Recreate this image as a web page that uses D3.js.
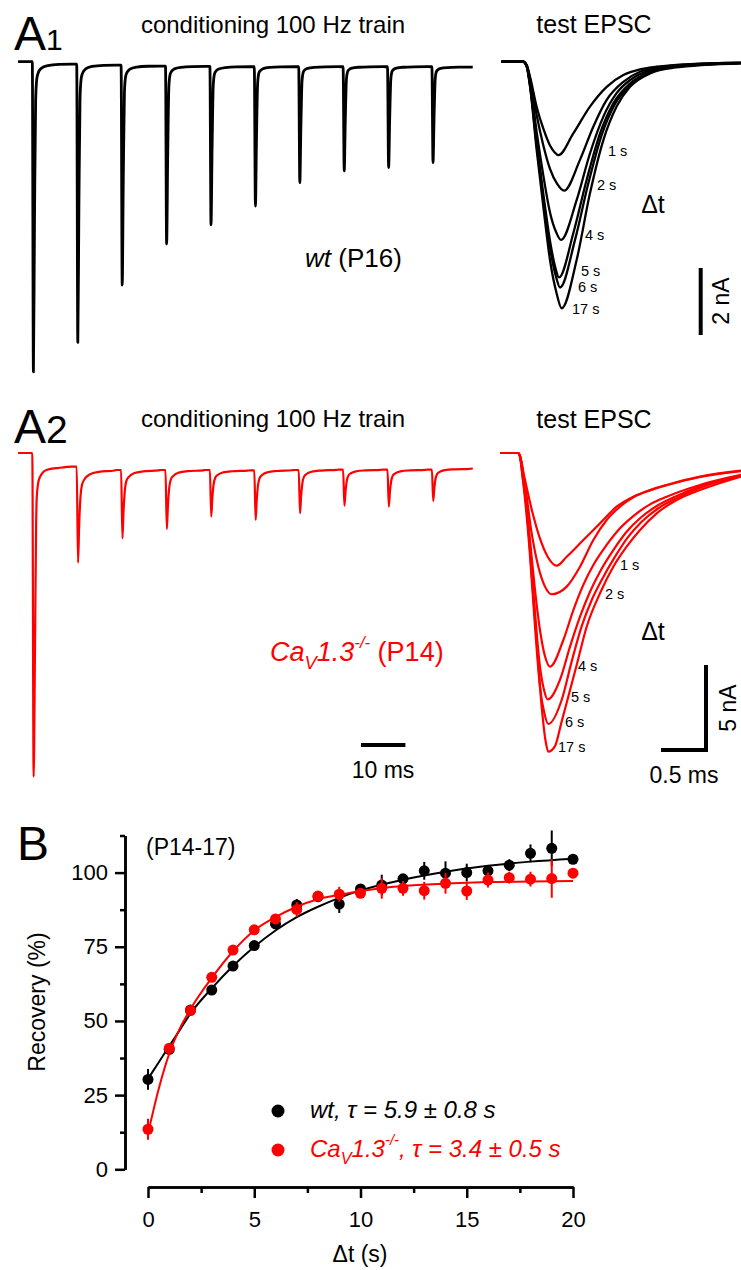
<!DOCTYPE html>
<html><head><meta charset="utf-8">
<script src="https://cdn.jsdelivr.net/npm/d3@7"></script>
<style>
body{margin:0;background:#fff}
svg{display:block}
text{font-family:"Liberation Sans",Arial,sans-serif}
</style>
</head><body><div id="chart"></div>
<script>
// ================= DATA =================
// Panel A: conditioning 100 Hz trains (stimulus times in ms, currents in nA)
const stimTimes = [0, 10, 20, 30, 40, 50, 60, 70, 80, 90];
const trainStart = -3.2, trainEnd = 99.2;
const wtTrainPeak = [-9.26, -8.38, -6.67, -5.44, -4.87, -4.31, -3.61, -3.26, -3.16, -3.01];
const wtTrainBase = [0, -0.07, -0.1, -0.13, -0.14, -0.15, -0.15, -0.15, -0.15, -0.15, -0.16];
const koTrainPeak = [-19.04, -6.45, -5.02, -4.48, -3.74, -3.94, -3.54, -3.1, -3.16, -2.82];
const koTrainBase = [0, -0.8, -1.0, -1.0, -1.0, -1.02, -1.0, -0.98, -0.98, -0.98, -0.92];
// normalised EPSC shapes within one 10-ms interval [ms after stimulus, fraction of peak]
const wtSpikeShape = [[0,0],[0.25,1],[0.5,0.5],[0.75,0.12],[1.0,0.05],[1.3,0.03],[2.0,0.014],[3.5,0.005],[6,0.001],[9,0]];
const koSpikeShapeFirst = [[0,0],[0.3,1],[0.6,0.6],[0.85,0.2],[1.0,0.1],[1.3,0.055],[1.75,0.033],[3.2,0.011],[6,0.004],[9,0]];
const koSpikeShapeRest = [[0,0],[0.3,1],[0.55,0.6],[0.8,0.33],[1.2,0.16],[1.75,0.1],[3,0.045],[5,0.02],[8.5,0.005],[9,0]];

// Test EPSCs after recovery interval Δt: [ms, nA]
const testLabels = ["1 s", "2 s", "4 s", "5 s", "6 s", "17 s"];
const wtTest = [
  [[-0.24,0],[0,0],[0.041,-0.1],[0.078,-0.45],[0.152,-1.35],[0.226,-2.0],[0.3,-2.5],[0.35,-2.7],[0.393,-2.79],[0.559,-2.14],[0.744,-1.34],[0.93,-0.75],[1.115,-0.4],[1.3,-0.23],[1.485,-0.15],[1.856,-0.07],[2.42,-0.03]],
  [[-0.24,0],[0,0],[0.041,-0.1],[0.078,-0.5],[0.152,-1.6],[0.226,-2.5],[0.3,-3.2],[0.38,-3.65],[0.456,-3.85],[0.633,-2.93],[0.781,-1.94],[0.93,-1.14],[1.115,-0.6],[1.3,-0.3],[1.56,-0.15],[1.856,-0.08],[2.42,-0.03]],
  [[-0.24,0],[0,0],[0.041,-0.12],[0.078,-0.6],[0.152,-2.1],[0.226,-3.4],[0.3,-4.5],[0.37,-5.1],[0.422,-5.32],[0.596,-4.13],[0.744,-2.74],[0.893,-1.64],[1.04,-0.94],[1.189,-0.55],[1.41,-0.25],[1.67,-0.13],[2.42,-0.04]],
  [[-0.24,0],[0,0],[0.041,-0.13],[0.078,-0.68],[0.152,-2.4],[0.226,-3.95],[0.3,-5.35],[0.36,-6.15],[0.4,-6.44],[0.559,-5.12],[0.707,-3.53],[0.856,-2.14],[1.004,-1.24],[1.189,-0.65],[1.41,-0.3],[1.67,-0.15],[2.42,-0.04]],
  [[-0.24,0],[0,0],[0.041,-0.14],[0.078,-0.7],[0.152,-2.5],[0.226,-4.1],[0.3,-5.55],[0.37,-6.45],[0.411,-6.74],[0.578,-5.32],[0.726,-3.63],[0.874,-2.19],[1.022,-1.26],[1.207,-0.67],[1.43,-0.31],[1.69,-0.15],[2.42,-0.04]],
  [[-0.24,0],[0,0],[0.041,-0.15],[0.078,-0.74],[0.152,-2.64],[0.226,-4.33],[0.3,-5.92],[0.374,-6.92],[0.43,-7.36],[0.596,-5.92],[0.744,-3.93],[0.893,-2.34],[1.04,-1.34],[1.189,-0.75],[1.41,-0.35],[1.67,-0.18],[2.42,-0.05]]
];
const koTest = [
  [[-0.2,0],[0,0],[0.02,-0.15],[0.072,-1.45],[0.163,-3.55],[0.237,-4.92],[0.33,-6.1],[0.43,-6.63],[0.541,-6.1],[0.726,-5.12],[0.911,-4.14],[1.096,-3.16],[1.281,-2.57],[1.467,-2.18],[1.652,-1.88],[2.022,-1.39],[2.478,-1.04]],
  [[-0.2,0],[0,0],[0.02,-0.15],[0.072,-1.65],[0.152,-4.73],[0.226,-6.69],[0.3,-7.86],[0.374,-8.31],[0.541,-7.86],[0.689,-6.69],[0.837,-5.12],[0.985,-3.94],[1.133,-3.16],[1.281,-2.61],[1.467,-2.2],[1.652,-1.9],[2.022,-1.41],[2.478,-1.06]],
  [[-0.2,0],[0,0],[0.02,-0.15],[0.059,-1.45],[0.133,-5.12],[0.189,-8.06],[0.244,-10.41],[0.3,-11.96],[0.356,-12.57],[0.504,-11.0],[0.615,-9.24],[0.726,-7.76],[0.837,-6.59],[0.985,-5.41],[1.133,-4.43],[1.281,-3.71],[1.467,-3.02],[1.652,-2.57],[2.022,-1.88],[2.478,-1.29]],
  [[-0.2,0],[0,0],[0.02,-0.15],[0.059,-1.45],[0.126,-5.12],[0.189,-9.43],[0.244,-12.57],[0.289,-13.94],[0.33,-14.49],[0.467,-13.33],[0.578,-11.39],[0.689,-9.63],[0.8,-8.16],[0.911,-6.98],[1.059,-5.71],[1.207,-4.63],[1.356,-3.84],[1.541,-3.12],[1.763,-2.53],[2.022,-1.98],[2.478,-1.33]],
  [[-0.2,0],[0,0],[0.02,-0.15],[0.052,-1.45],[0.126,-5.51],[0.189,-10.22],[0.244,-13.75],[0.293,-15.31],[0.337,-15.94],[0.485,-14.53],[0.596,-12.27],[0.707,-10.2],[0.819,-8.65],[0.93,-7.47],[1.078,-6.1],[1.226,-4.92],[1.374,-4.04],[1.559,-3.25],[1.781,-2.61],[2.022,-2.04],[2.478,-1.35]],
  [[-0.2,0],[0,0],[0.02,-0.15],[0.052,-1.45],[0.096,-3.16],[0.152,-7.08],[0.207,-11.0],[0.263,-14.92],[0.311,-17.08],[0.337,-17.57],[0.411,-17.24],[0.485,-15.8],[0.559,-14.33],[0.652,-12.47],[0.763,-10.22],[0.911,-8.25],[1.059,-6.69],[1.207,-5.51],[1.356,-4.53],[1.541,-3.55],[1.763,-2.76],[2.022,-2.18],[2.478,-1.39]]
];

// Panel B: recovery (%) vs Δt (s)
const deltaT = [0,1,2,3,4,5,6,7,8,9,10,11,12,13,14,15,16,17,18,19,20];
const wtRec = [30.3,40.4,53.7,60.4,68.5,75.4,82.7,89.1,91.9,89.4,94.5,95.8,97.9,100.6,99.8,100,100.6,102.5,106.5,108.2,104.5];
const wtErr = [3.5,1.5,1,1,1,1,1,2,1,3,1,3.5,1.5,3,4,3,2,2,3,6,1.5];
const koRec = [13.5,40.8,53.5,64.7,73.9,80.7,84.4,87.6,92.1,92.7,93,94.7,94.7,93.9,96.4,93.8,97.5,98.3,97.8,98,99.8];
const koErr = [3.5,1.5,1,1,1,1,1,2.5,1,2.5,1,3.5,2.5,3,3.5,3,2.5,2,2.5,6.5,1];
// fitted curves
const fitT = [0,0.5,1,1.5,2,3,4,5,6,7,8,9,10,12,14,16,18,20];
const wtFit = [30.5,36,41.5,47,52.5,61,68.5,75,80.5,85,88.5,91.5,94,97.6,100.3,102.3,103.7,104.7];
const koFit = [12,27,39,47.5,54,64.5,73.5,80.5,85,88.5,91,92.5,93.8,95.5,96.3,96.8,97,97.2];
const yMajor = [0,25,50,75,100];
const yMinor = [12.5,37.5,62.5,87.5,112.5];
const xMajor = [0,5,10,15,20];
const xMinor = [2.5,7.5,12.5,17.5];

const RED = "#ff0000";

// ================= DRAW =================
const svg = d3.select("#chart").append("svg").attr("width",741).attr("height",1270);

// scales (same current scale for trains and test EPSC of one genotype)
const xTrain = d3.scaleLinear().domain([0,10]).range([32.3,76.7]);
const yA1 = d3.scaleLinear().domain([0,-2]).range([61.7,128.7]);
const yA2 = d3.scaleLinear().domain([0,-5]).range([453,538]);
const xTestA1 = d3.scaleLinear().domain([0,0.5]).range([523,568]);
const xTestA2 = d3.scaleLinear().domain([0,0.5]).range([518,563]);

function trainPoints(peaks, bases, shapeFirst, shapeRest){
  const pts = [[trainStart, bases[0]]];
  stimTimes.forEach((t0,i)=>{
    const shape = i===0 ? shapeFirst : shapeRest;
    const b = bases[i+1];
    pts.push([t0, bases[i]]);
    shape.slice(1).forEach(([s,f])=>pts.push([t0+s, b+(peaks[i]-b)*f]));
  });
  pts.push([trainEnd, bases[bases.length-1]]);
  return pts;
}
const mkLine = (xs,ys)=>d3.line().x(d=>xs(d[0])).y(d=>ys(d[1])).curve(d3.curveMonotoneX);

// ---- A1 ----
svg.append("path").attr("d", mkLine(xTrain,yA1)(trainPoints(wtTrainPeak,wtTrainBase,wtSpikeShape,wtSpikeShape)))
  .attr("fill","none").attr("stroke","#000").attr("stroke-width",2.8).attr("stroke-linejoin","round");
svg.append("g").selectAll("path").data(wtTest).join("path")
  .attr("d", mkLine(xTestA1,yA1)).attr("fill","none").attr("stroke","#000").attr("stroke-width",2.3);

// ---- A2 ----
svg.append("path").attr("d", mkLine(xTrain,yA2)(trainPoints(koTrainPeak,koTrainBase,koSpikeShapeFirst,koSpikeShapeRest)))
  .attr("fill","none").attr("stroke",RED).attr("stroke-width",2.2).attr("stroke-linejoin","round");
svg.append("g").selectAll("path").data(koTest).join("path")
  .attr("d", mkLine(xTestA2,yA2)).attr("fill","none").attr("stroke",RED).attr("stroke-width",2.2);

// interval labels
const wtLabelPos = [[608,156],[597,190],[585,240],[581,275.5],[578,291.5],[572,314]];
const koLabelPos = [[620,570],[605,599],[578,671],[571,702],[565,727],[558,752]];
function intervalLabels(pos){
  svg.append("g").selectAll("text").data(testLabels).join("text")
    .attr("x",(d,i)=>pos[i][0]).attr("y",(d,i)=>pos[i][1]).attr("font-size",14.5).text(d=>d);
}
intervalLabels(wtLabelPos); intervalLabels(koLabelPos);

// panel letters and titles
function panelLetter(x,y,main,sub,subSize){
  const t = svg.append("text").attr("x",x).attr("y",y).attr("font-size",48);
  t.append("tspan").text(main);
  if(sub) t.append("tspan").attr("font-size",subSize).text(sub);
}
panelLetter(14,50,"A","1",30);
panelLetter(14,443,"A","2",39);
panelLetter(17,860,"B");

function txt(x,y,s,size,anchor){
  return svg.append("text").attr("x",x).attr("y",y).attr("font-size",size).attr("text-anchor",anchor||"start").text(s);
}
txt(273,33,"conditioning 100 Hz train",24,"middle");
txt(594,33,"test EPSC",25,"middle");
txt(273,427,"conditioning 100 Hz train",24,"middle");
txt(594,428,"test EPSC",25,"middle");
txt(653,213,"\u0394t",25,"middle");
txt(653,640,"\u0394t",25,"middle");

// wt (P16)
{
  const t = svg.append("text").attr("x",305).attr("y",267).attr("font-size",26);
  t.append("tspan").attr("font-style","italic").text("wt");
  t.append("tspan").text(" (P16)");
}
// CaV1.3-/- label builder
function caLabel(x,y,size,rest,restItalic,color){
  const t = svg.append("text").attr("x",x).attr("y",y).attr("font-size",size).attr("fill",color);
  t.append("tspan").attr("font-style","italic").text("Ca");
  t.append("tspan").attr("font-style","italic").attr("font-size",size*0.68).attr("dy",size*0.28).text("V");
  t.append("tspan").attr("font-style","italic").attr("dy",-size*0.28).text("1.3");
  t.append("tspan").attr("font-style","italic").attr("font-size",size*0.62).attr("dy",-size*0.5).text("-/-");
  t.append("tspan").attr("font-style",restItalic?"italic":"normal").attr("dy",size*0.5).text(rest);
}
caLabel(270,661,27," (P14)",false,RED);

// scale bars
const sb = svg.append("g").attr("stroke","#000").attr("stroke-width",4).attr("fill","none");
sb.append("line").attr("x1",700.7).attr("x2",700.7).attr("y1",335).attr("y2",335-(yA1(-2)-yA1(0)));
sb.append("path").attr("d",`M706,${750-(yA2(-5)-yA2(0))}V750H${706-(xTestA2(0.5)-xTestA2(0))}`);
sb.append("line").attr("x1",361).attr("x2",361+(xTrain(10)-xTrain(0))).attr("y1",745).attr("y2",745);
svg.append("text").attr("transform","translate(729,301) rotate(-90)").attr("text-anchor","middle").attr("font-size",23).text("2 nA");
svg.append("text").attr("transform","translate(736,708) rotate(-90)").attr("text-anchor","middle").attr("font-size",23).text("5 nA");
txt(684,783,"0.5 ms",23,"middle");
txt(383,778,"10 ms",23,"middle");

// ---- Panel B ----
const xB = d3.scaleLinear().domain([0,20]).range([148,573]);
const yB = d3.scaleLinear().domain([0,100]).range([1169.3,872.6]);
const yBAxis = yB.copy().domain([0,112.5]).range([yB(0),yB(112.5)]);

function styleAxis(g){
  g.selectAll("path,line").attr("stroke","#000").attr("stroke-width",2.5);
  g.attr("font-family",null);
  g.selectAll("text").attr("font-size",22).attr("fill","#000");
}
svg.append("g").attr("transform","translate(125,0)")
  .call(d3.axisLeft(yBAxis).tickValues(yMinor).tickSize(5).tickSizeOuter(0).tickFormat(""))
  .call(styleAxis);
svg.append("g").attr("transform","translate(125,0)")
  .call(d3.axisLeft(yBAxis).tickValues(yMajor).tickSize(10).tickSizeOuter(0).tickPadding(7))
  .call(styleAxis);
svg.append("g").attr("transform","translate(0,1187)")
  .call(d3.axisBottom(xB).tickValues(xMinor).tickSize(6).tickSizeOuter(0).tickFormat(""))
  .call(styleAxis);
svg.append("g").attr("transform","translate(0,1187)")
  .call(d3.axisBottom(xB).tickValues(xMajor).tickSize(11).tickSizeOuter(0).tickPadding(13))
  .call(styleAxis);

svg.append("text").attr("transform","translate(45,1002) rotate(-90)").attr("text-anchor","middle").attr("font-size",23).text("Recovery (%)");
txt(360,1262,"\u0394t (s)",23,"middle");
txt(146,855,"(P14-17)",23,"start");

function series(rec,err,fit,color){
  const g = svg.append("g");
  g.selectAll("line").data(deltaT).join("line")
    .attr("x1",d=>xB(d)).attr("x2",d=>xB(d))
    .attr("y1",(d,i)=>yB(rec[i]-err[i])).attr("y2",(d,i)=>yB(rec[i]+err[i]))
    .attr("stroke",color).attr("stroke-width",2);
  g.append("path").datum(fitT.map((t,i)=>[t,fit[i]]))
    .attr("d",d3.line().x(d=>xB(d[0])).y(d=>yB(d[1])).curve(d3.curveMonotoneX))
    .attr("fill","none").attr("stroke",color).attr("stroke-width",2);
  g.selectAll("circle").data(deltaT).join("circle")
    .attr("cx",d=>xB(d)).attr("cy",(d,i)=>yB(rec[i])).attr("r",5.5).attr("fill",color);
}
series(wtRec,wtErr,wtFit,"#000");
series(koRec,koErr,koFit,RED);

// legend
const legend = [{color:"#000", y:1118},{color:RED, y:1157}];
svg.append("g").selectAll("circle").data(legend).join("circle")
  .attr("cx",278).attr("cy",d=>d.y-7).attr("r",6.5).attr("fill",d=>d.color);
svg.append("text").attr("x",310).attr("y",1118).attr("font-size",24).attr("font-style","italic")
  .text("wt,  \u03c4 = 5.9 \u00b1 0.8 s");
caLabel(310,1157,24,",  \u03c4 = 3.4 \u00b1 0.5 s",true,RED);
</script>
</body></html>
